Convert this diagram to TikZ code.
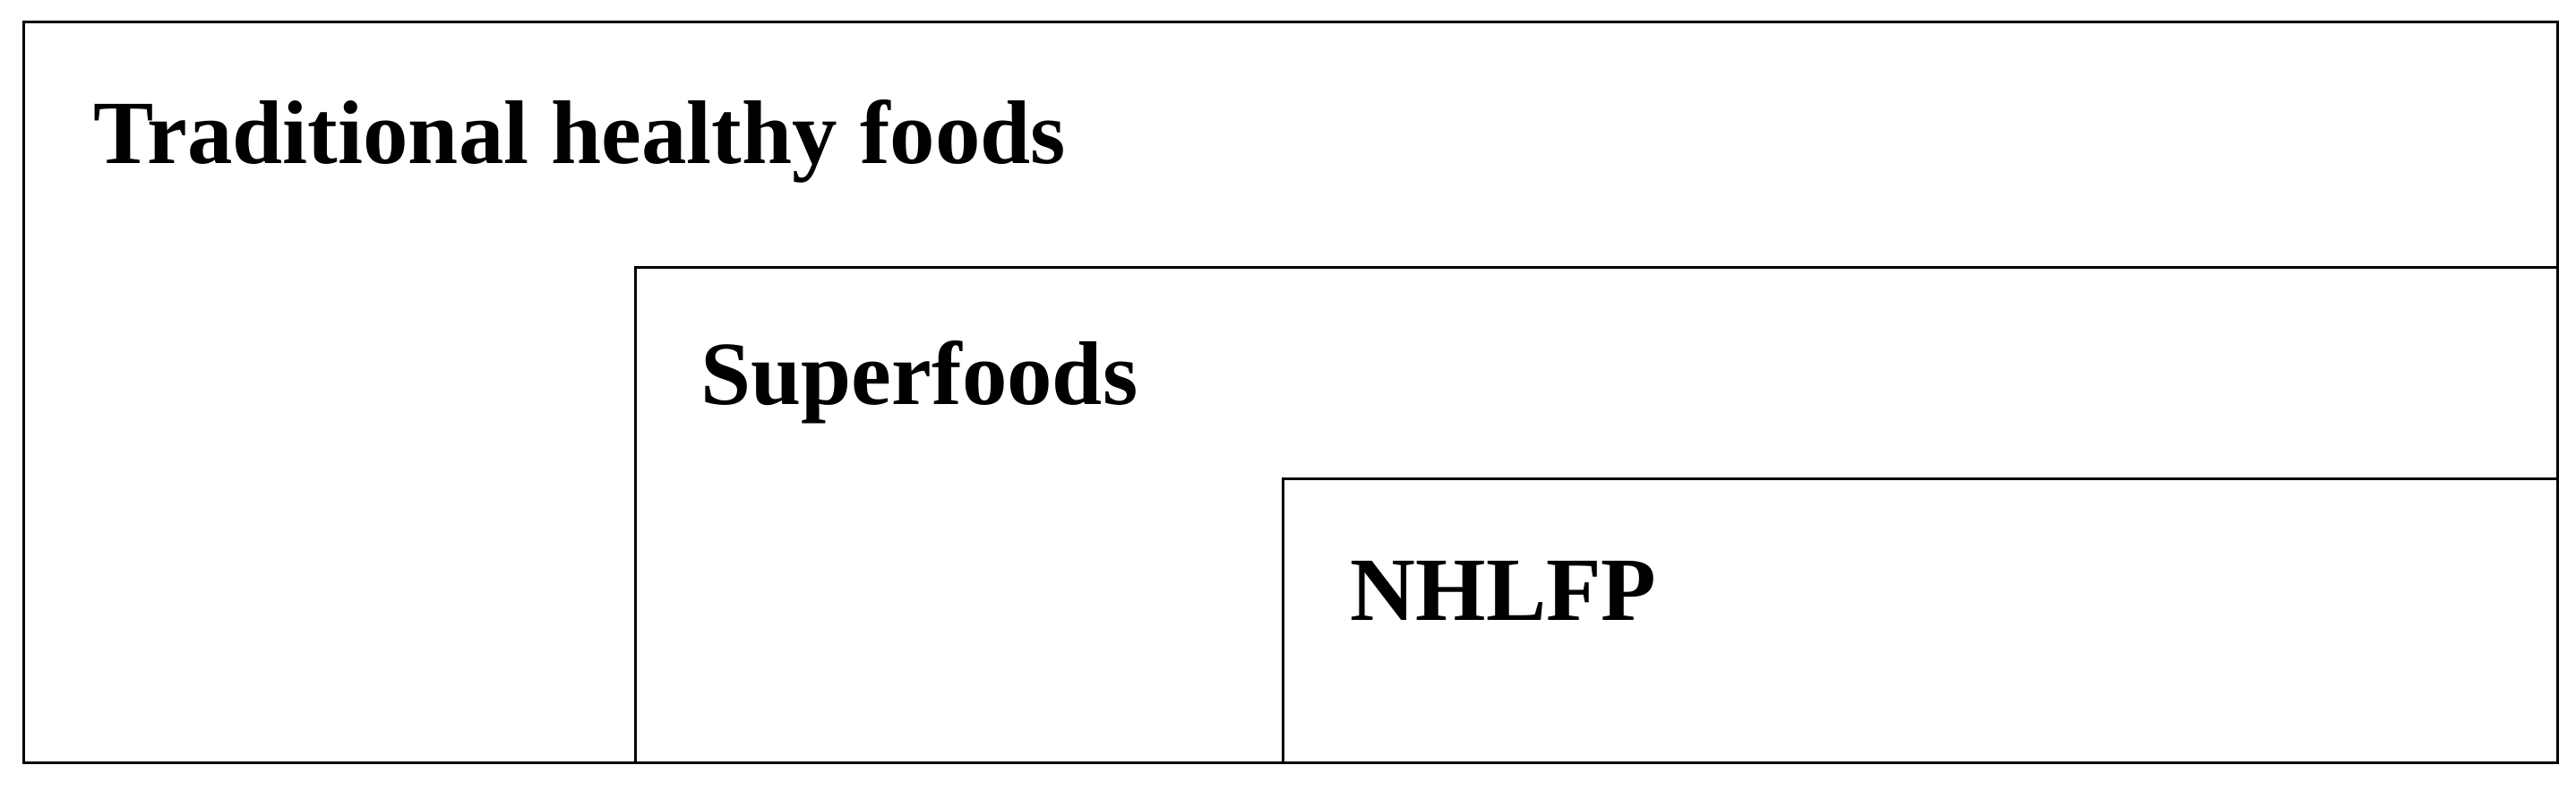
\documentclass[tikz,border=0pt]{standalone}
\usepackage{fontspec}
\setmainfont{Liberation Serif}
\begin{document}
\begin{tikzpicture}
	\tikzset{box/.style={draw, line width=0.03cm}, lbl/.style={anchor=base west, inner sep=0pt, font=\fontsize{28.7}{34}\selectfont\bfseries}}
	\useasboundingbox (0, 0) rectangle (28.76, 8.82);
	\draw[box] (0.265, 0.31) rectangle (28.55, 8.575);
	\draw[box] (7.09, 0.31) rectangle (28.55, 5.835);
	\draw[box] (14.32, 0.31) rectangle (28.55, 3.475);
	\node[lbl] (trad) at (1.04, 7.00) {Traditional healthy foods};
	\node[lbl] (super) at (7.82, 4.31) {Superfoods};
	\node[lbl] (nhlfp) at (15.07, 1.90) {NHLFP};
\end{tikzpicture}
\end{document}
